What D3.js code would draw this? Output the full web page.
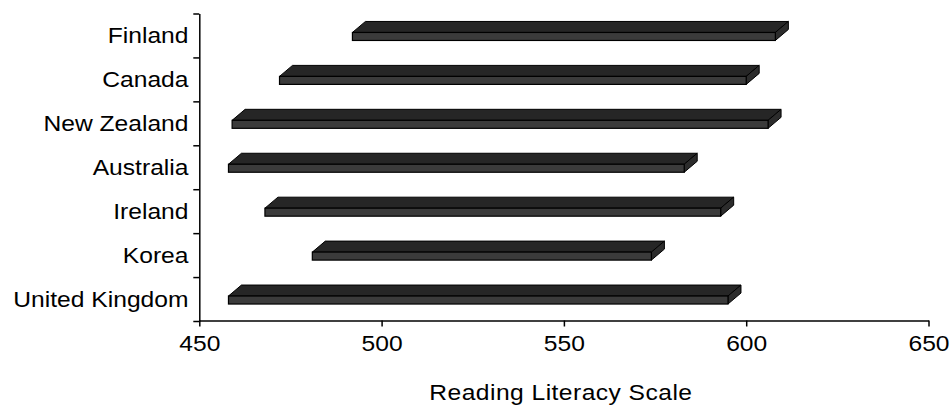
<!DOCTYPE html>
<html>
<head>
<meta charset="utf-8">
<script src="https://cdn.jsdelivr.net/npm/d3@7/dist/d3.min.js"></script>
<style>
  html, body { margin: 0; padding: 0; background: #fff; }
  svg { display: block; }
  text { font-family: "Liberation Sans", Arial, sans-serif; fill: #000; }
</style>
</head>
<body>
<svg id="chart" width="952" height="405"></svg>
<script>
// Reading literacy: spread of scores per country (low and high end of each bar)
const countries = ["Finland", "Canada", "New Zealand", "Australia", "Ireland", "Korea", "United Kingdom"];
const lowScores  = [492, 472, 459, 458, 468, 481, 458];
const highScores = [608, 600, 606, 583, 593, 574, 595];
const xTicks = [450, 500, 550, 600, 650];
const xTitle = "Reading Literacy Scale";

const rows = countries.map((c, i) => ({ country: c, low: lowScores[i], high: highScores[i] }));

const svg = d3.select("#chart");

const x = d3.scaleLinear().domain([450, 650]).range([199.3, 928.5]);
const y = d3.scaleBand().domain(countries).range([13.5, 321]).padding(0);

const textScale = "scale(1.12,1)";
const fontSize = 22;

// Pseudo-3D bar geometry: front face plus top and right faces
const faceH = 8, depthX = 13, depthY = 11;

const bars = svg.append("g").attr("class", "bars");
rows.forEach(d => {
  const cy = y(d.country) + y.bandwidth() / 2;
  const x0 = x(d.low), x1 = x(d.high);
  const top = cy - 3, bot = top + faceH;
  const g = bars.append("g");
  // top face
  g.append("path")
    .attr("d", `M${x0},${top} L${x0 + depthX},${top - depthY} L${x1 + depthX},${top - depthY} L${x1},${top} Z`)
    .attr("fill", "#262626").attr("stroke", "#000").attr("stroke-width", 1).attr("stroke-linejoin", "round");
  // right face
  g.append("path")
    .attr("d", `M${x1},${top} L${x1 + depthX},${top - depthY} L${x1 + depthX},${bot - depthY} L${x1},${bot} Z`)
    .attr("fill", "#2c2c2c").attr("stroke", "#000").attr("stroke-width", 1).attr("stroke-linejoin", "round");
  // front face
  g.append("rect")
    .attr("x", x0).attr("y", top).attr("width", x1 - x0).attr("height", faceH)
    .attr("fill", "#3b3b3b").attr("stroke", "#000").attr("stroke-width", 1.2);
});

// X axis
const axisY = 320.5;
const xAxis = svg.append("g")
  .attr("transform", `translate(0,${axisY})`)
  .call(d3.axisBottom(x).tickValues(xTicks).tickSize(6).tickSizeOuter(0).tickFormat(d3.format("d")));
xAxis.select(".domain").attr("stroke", "#000").attr("stroke-width", 1.5);
xAxis.selectAll(".tick line").attr("stroke", "#000").attr("stroke-width", 1.5);
xAxis.selectAll(".tick text")
  .attr("y", 30.5).attr("dy", 0)
  .attr("font-size", fontSize)
  .attr("font-family", "Liberation Sans, Arial, sans-serif")
  .attr("transform", textScale);

// Y axis: line with ticks at band boundaries
const yEdges = d3.scaleLinear().domain([0, countries.length]).range([y.range()[0], y.range()[1]]);
const yAxis = svg.append("g")
  .attr("transform", `translate(${x.range()[0]},0)`)
  .call(d3.axisLeft(yEdges).tickValues(d3.range(countries.length + 1)).tickSize(6).tickSizeOuter(0).tickFormat(""));
yAxis.select(".domain").attr("stroke", "#000").attr("stroke-width", 1.5);
yAxis.selectAll(".tick line").attr("stroke", "#000").attr("stroke-width", 1.5);

// Country labels
svg.append("g").selectAll("g.lbl")
  .data(countries)
  .join("g")
  .attr("class", "lbl")
  .attr("transform", c => `translate(188.5,${y(c) + y.bandwidth() / 2 + 7.6})`)
  .append("text")
  .attr("text-anchor", "end")
  .attr("font-size", fontSize)
  .attr("transform", textScale)
  .text(c => c);

// Axis title
svg.append("g")
  .attr("transform", `translate(${(x.range()[0] + x.range()[1]) / 2 - 3},400)`)
  .append("text")
  .attr("text-anchor", "middle")
  .attr("font-size", fontSize)
  .attr("letter-spacing", 0.4)
  .attr("transform", textScale)
  .text(xTitle);
</script>
</body>
</html>
